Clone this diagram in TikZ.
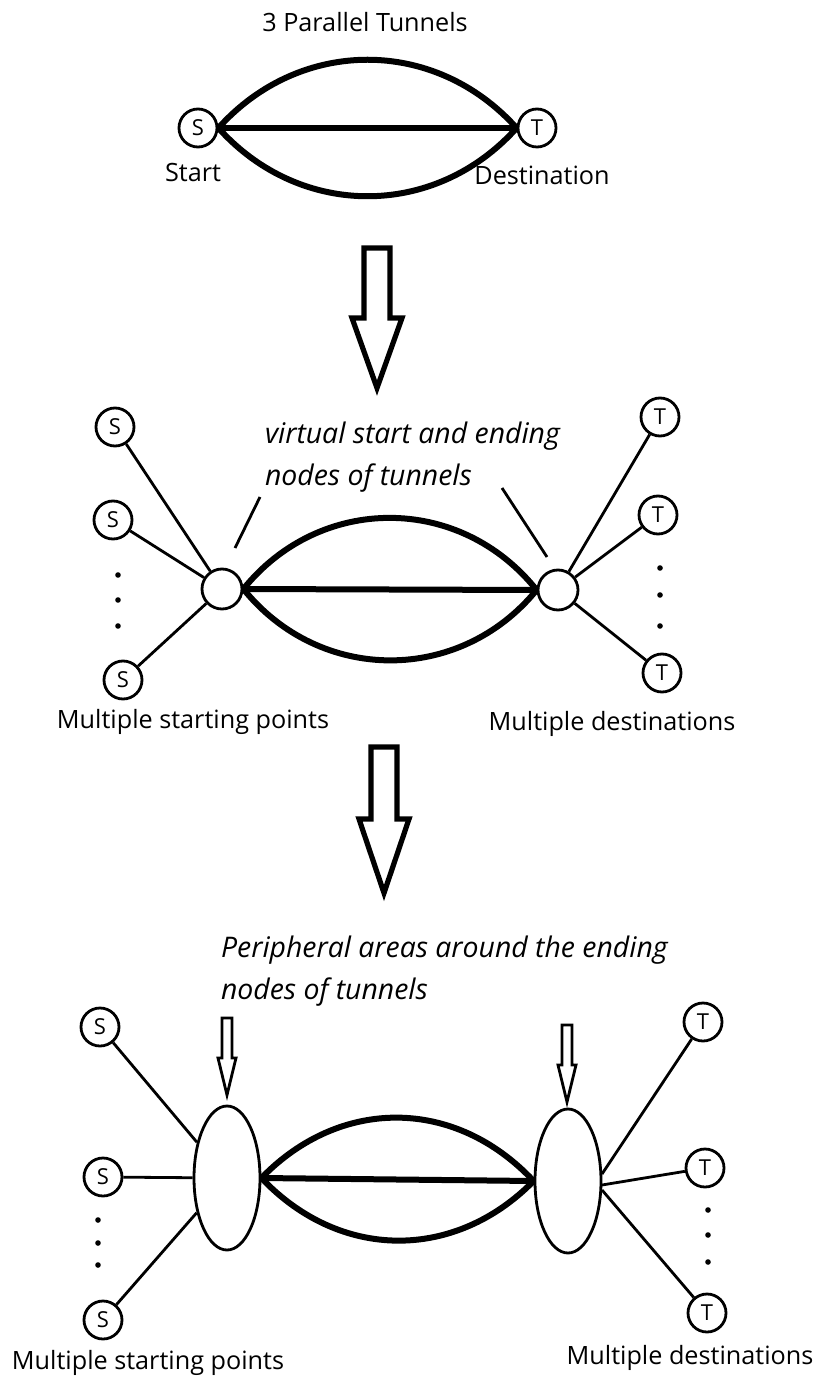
\documentclass[tikz,border=0pt]{standalone}
\usepackage{fontspec}
\setmainfont{Open Sans}
\usetikzlibrary{shapes.geometric}

\begin{document}
\begin{tikzpicture}[x=0.5pt,y=-0.5pt]
\tikzstyle{vertex}=[circle,draw,line width=1.4pt,minimum size=19pt,inner sep=0pt,font=\fontsize{11}{12}\selectfont]
\tikzstyle{hub}=[circle,draw,line width=1.4pt,minimum size=20pt,inner sep=0pt]
\tikzstyle{area}=[ellipse,draw,line width=1.4pt,minimum width=33pt,minimum height=72pt,inner sep=0pt]
\tikzstyle{tunnel}=[draw,line width=3pt]
\tikzstyle{link}=[draw,line width=1.4pt]
\tikzstyle{bigarrow}=[draw,line width=2.6pt,line join=miter]
\tikzstyle{smallarrow}=[draw,line width=1.4pt,line join=miter]
\tikzstyle{label}=[font=\fontsize{12.6}{14}\selectfont]
\tikzstyle{note}=[font=\fontsize{14.2}{21}\selectfont\itshape,align=left]
\tikzstyle{dot}=[fill,circle,inner sep=0pt,minimum size=2.8pt]
\useasboundingbox (0,0) rectangle (821,1379);

% 3 parallel tunnels
\node[label] (title) at (365,22) {3 Parallel Tunnels};
\node[vertex] (S) at (198,128) {S};
\node[vertex] (T) at (537,128) {T};
\node[label] (start) at (193,173) {Start};
\node[label] (dest) at (542,175) {Destination};
\path[tunnel] (S.east) -- (T.west);
\path[tunnel] (S.east) .. controls (300,37) and (435,37) .. (T.west);
\path[tunnel] (S.east) .. controls (300,219) and (435,219) .. (T.west);

\draw[bigarrow,shift={(377,248)}] (-13,0) -- (13,0) -- (13,70) -- (25,70) -- (0,140) -- (-25,70) -- (-13,70) -- cycle;

% virtual start and ending nodes
\node[hub] (vs) at (222,589) {};
\node[hub] (vt) at (558,590) {};
\node[vertex] (s1) at (115,427) {S};
\node[vertex] (s2) at (113,520) {S};
\node[vertex] (s3) at (123,680) {S};
\node[vertex] (t1) at (660,417) {T};
\node[vertex] (t2) at (658,515) {T};
\node[vertex] (t3) at (662,673) {T};
\foreach \y in {575,600,626} \node[dot] at (118,\y) {};
\foreach \y in {568,595,626} \node[dot] at (660,\y) {};
\path[link] (s1) -- (vs);
\path[link] (s2) -- (vs);
\path[link] (s3) -- (vs);
\path[link] (t1) -- (vt);
\path[link] (t2) -- (vt);
\path[link] (t3) -- (vt);
\path[tunnel] (vs.east) -- (vt.west);
\path[tunnel] (vs.east) .. controls (320,494) and (460,494) .. (vt.west);
\path[tunnel] (vs.east) .. controls (320,684) and (460,684) .. (vt.west);
\node[note,anchor=west] (virt) at (258,457) {virtual start and ending\\nodes of tunnels};
\draw[link] (260,497) -- (235,548);
\draw[link] (502,488) -- (547,557);
\node[label] (ms1) at (193,722) {Multiple starting points};
\node[label] (md1) at (612,724) {Multiple destinations};

\draw[bigarrow,shift={(384,747)}] (-13,0) -- (13,0) -- (13,72) -- (25,72) -- (0,146) -- (-25,72) -- (-13,72) -- cycle;

% peripheral areas
\node[note,anchor=west] (peri) at (214,971) {Peripheral areas around the ending\\nodes of tunnels};
\node[area] (ls) at (227,1178) {};
\node[area] (lt) at (568,1181) {};
\draw[smallarrow,shift={(227,1018)}] (-5,0) -- (5,0) -- (5,40) -- (9,40) -- (0,77) -- (-9,40) -- (-5,40) -- cycle;
\draw[smallarrow,shift={(567,1025)}] (-5,0) -- (5,0) -- (5,40) -- (9,40) -- (0,77) -- (-9,40) -- (-5,40) -- cycle;
\node[vertex] (s4) at (100,1027) {S};
\node[vertex] (s5) at (103,1177) {S};
\node[vertex] (s6) at (103,1320) {S};
\node[vertex] (t4) at (703,1022) {T};
\node[vertex] (t5) at (705,1168) {T};
\node[vertex] (t6) at (707,1313) {T};
\foreach \y in {1220,1243,1265} \node[dot] at (98,\y) {};
\foreach \y in {1210,1235,1262} \node[dot] at (708,\y) {};
\path[link] (s4) -- (ls);
\path[link] (s5) -- (ls);
\path[link] (s6) -- (ls);
\path[link] (t4) -- (602,1174);
\path[link] (t5) -- (602,1185);
\path[link] (t6) -- (602,1190);
\path[tunnel] (ls.east) -- (lt.west);
\path[tunnel] (ls.east) .. controls (340,1097) and (455,1097) .. (lt.west);
\path[tunnel] (ls.east) .. controls (340,1261) and (455,1261) .. (lt.west);
\node[label] (ms2) at (148,1363) {Multiple starting points};
\node[label] (md2) at (690,1358) {Multiple destinations};
\end{tikzpicture}
\end{document}
